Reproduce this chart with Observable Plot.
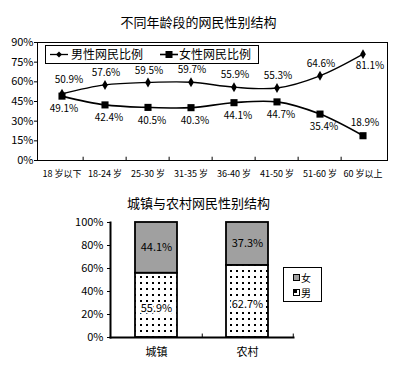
<!DOCTYPE html>
<html>
<head>
<meta charset="utf-8">
<script src="https://cdn.jsdelivr.net/npm/d3@7"></script>
<script src="https://cdn.jsdelivr.net/npm/@observablehq/plot@0.6"></script>
<style>
  body { margin: 0; background: #fff; }
  #wrap { position: relative; width: 397px; height: 368px; overflow: hidden; background: #fff;
          font-family: "Noto Sans CJK SC", "DejaVu Sans", sans-serif; color: #000; }
  .title { position: absolute; left: 0; width: 397px; text-align: center; font-size: 13px; line-height: 16px; }
  .plot { position: absolute; left: 0; }
  .legend { position: absolute; border: 1px solid #000; background: #fff; font-size: 12px; }
</style>
</head>
<body>
<div id="wrap"></div>
<script>
// ---- Data: chart 1 ----
const title1 = "不同年龄段的网民性别结构";
const ageGroups = ["18 岁以下", "18-24 岁", "25-30 岁", "31-35 岁", "36-40 岁", "41-50 岁", "51-60 岁", "60 岁以上"];
const maleShare = [50.9, 57.6, 59.5, 59.7, 55.9, 55.3, 64.6, 81.1];
const femaleShare = [49.1, 42.4, 40.5, 40.3, 44.1, 44.7, 35.4, 18.9];
const seriesNames = ["男性网民比例", "女性网民比例"];
const yTicks1 = [0, 15, 30, 45, 60, 75, 90];

// ---- Data: chart 2 ----
const title2 = "城镇与农村网民性别结构";
const areas = ["城镇", "农村"];
const maleArea = [55.9, 62.7];
const femaleArea = [44.1, 37.3];
const yTicks2 = [0, 20, 40, 60, 80, 100];
const legend2 = ["女", "男"];

const font = '"Noto Sans CJK SC", "DejaVu Sans", sans-serif';
const wrap = document.getElementById("wrap");

// ---------- Chart 1 ----------
const male = ageGroups.map((c, i) => ({cat: c, v: maleShare[i], i}));
const female = ageGroups.map((c, i) => ({cat: c, v: femaleShare[i], i}));
const W = 397, H1 = 190, ml1 = 37, mr1 = 10, mt1 = 42, mb1 = 30;
const step1 = (W - ml1 - mr1) / ageGroups.length;
const n = ageGroups.length;
const pct = d => d.toFixed(1) + "%";

const p1 = Plot.plot({
  width: W, height: H1,
  marginLeft: ml1, marginRight: mr1, marginTop: mt1, marginBottom: mb1,
  style: {fontFamily: font, fontSize: "10px", background: "white", color: "black", overflow: "visible"},
  x: {type: "band", domain: ageGroups, padding: 0},
  y: {domain: [0, 90]},
  marks: [
    Plot.frame({stroke: "black", strokeWidth: 1}),
    Plot.axisY({ticks: yTicks1, tickFormat: d => d + "%", tickSize: 3, tickPadding: 1, label: null, fontSize: 11}),
    Plot.axisX({tickSize: 0, tickPadding: 10, label: null, fontSize: 9, letterSpacing: "-0.3px"}),
    Plot.ruleX(ageGroups.slice(1), {x: d => d, y1: 0, y2: 2.5, dx: -step1 / 2, stroke: "black"}),
    Plot.line(male, {x: "cat", y: "v", curve: "catmull-rom", stroke: "black", strokeWidth: 1.3}),
    Plot.line(female, {x: "cat", y: "v", curve: "catmull-rom", stroke: "black", strokeWidth: 1.6}),
    Plot.dot(male, {x: "cat", y: "v", symbol: "diamond", r: 3, fill: "black", stroke: "none"}),
    Plot.dot(female, {x: "cat", y: "v", symbol: "square", r: 4, fill: "black", stroke: "none"}),
    // male labels
    Plot.text(male, {filter: d => d.i === 0, x: "cat", y: "v", text: d => pct(d.v), dx: 7, dy: -14, fontSize: 10}),
    Plot.text(male, {filter: d => d.i > 0 && d.i < n - 1, x: "cat", y: "v", text: d => pct(d.v), dx: 1, dy: -12, fontSize: 10}),
    Plot.text(male, {filter: d => d.i === n - 1, x: "cat", y: "v", text: d => pct(d.v), dx: 7, dy: 12, fontSize: 10}),
    // female labels
    Plot.text(female, {filter: d => d.i === 0, x: "cat", y: "v", text: d => pct(d.v), dx: 2, dy: 13, fontSize: 10}),
    Plot.text(female, {filter: d => d.i > 0 && d.i < n - 1, x: "cat", y: "v", text: d => pct(d.v), dx: 4, dy: 13, fontSize: 10}),
    Plot.text(female, {filter: d => d.i === n - 1, x: "cat", y: "v", text: d => pct(d.v), dx: 2, dy: -13, fontSize: 10})
  ]
});
p1.classList.add("plot");
p1.style.top = "0px";
wrap.appendChild(p1);

const t1 = document.createElement("div");
t1.className = "title"; t1.style.top = "14px"; t1.textContent = title1;
wrap.appendChild(t1);

// legend 1 (inside plot frame)
const lg1 = document.createElement("div");
lg1.className = "legend";
Object.assign(lg1.style, {left: "45px", top: "45px", width: "212px", height: "17px"});
lg1.innerHTML = `
<svg width="212" height="17" style="position:absolute;left:0;top:0;font-family:${font.replace(/"/g, "'")}">
  <line x1="4" x2="22" y1="8.5" y2="8.5" stroke="black" stroke-width="1.3"/>
  <path d="M13,5.5 L16,8.5 L13,11.5 L10,8.5 Z" fill="black"/>
  <text x="25" y="13" font-size="12">${seriesNames[0]}</text>
  <line x1="114" x2="132" y1="8.5" y2="8.5" stroke="black" stroke-width="1.6"/>
  <rect x="119.5" y="5" width="7" height="7" fill="black"/>
  <text x="133" y="13" font-size="12">${seriesNames[1]}</text>
</svg>`;
wrap.appendChild(lg1);

// ---------- Chart 2 ----------
const H2 = 178, ml2 = 110, mr2 = 104, mt2 = 32, mb2 = 31;
const bars = areas.map((a, i) => ({area: a, m: maleArea[i], f: femaleArea[i]}));
const step2 = (W - ml2 - mr2) / areas.length;

const p2 = Plot.plot({
  width: W, height: H2,
  marginLeft: ml2, marginRight: mr2, marginTop: mt2, marginBottom: mb2,
  style: {fontFamily: font, fontSize: "11px", background: "white", color: "black", overflow: "visible"},
  x: {type: "band", domain: areas, paddingInner: 0.54, paddingOuter: 0.27},
  y: {domain: [0, 100]},
  marks: [
    Plot.axisY({ticks: yTicks2, tickFormat: d => d + "%", tickSize: 3, tickPadding: 4, label: null, fontSize: 11}),
    Plot.axisX({tickSize: 0, tickPadding: 11, label: null, fontSize: 11}),
    Plot.barY(bars, {x: "area", y1: 0, y2: "m", fill: "url(#dots)", stroke: "black", strokeWidth: 1.8}),
    Plot.barY(bars, {x: "area", y1: "m", y2: d => d.m + d.f, fill: "#a0a0a0", stroke: "black", strokeWidth: 1.8}),
    Plot.text(bars, {x: "area", y: d => d.m + d.f / 2, text: d => pct(d.f), fontSize: 11, fill: "black"}),
    Plot.text(bars, {x: "area", y: d => d.m / 2, text: d => pct(d.m), dy: 3, fontSize: 11, fill: "black",
                     stroke: "white", strokeWidth: 4, paintOrder: "stroke"}),
    Plot.ruleX(areas, {x: d => d, y1: 0, y2: 3, dx: step2 / 2, stroke: "black"}),
    Plot.frame({anchor: "left", stroke: "black", strokeWidth: 2}),
    Plot.frame({anchor: "bottom", stroke: "black", strokeWidth: 2})
  ]
});
// dot pattern for male segment
const defs = d3.select(p2).insert("defs", ":first-child");
const pat = defs.append("pattern").attr("id", "dots").attr("patternUnits", "userSpaceOnUse")
  .attr("width", 6).attr("height", 6);
pat.append("rect").attr("width", 6).attr("height", 6).attr("fill", "white");
pat.append("rect").attr("x", 2).attr("y", 2).attr("width", 2).attr("height", 2).attr("fill", "black");
p2.classList.add("plot");
p2.style.top = "190px";
wrap.appendChild(p2);

const t2 = document.createElement("div");
t2.className = "title"; t2.style.top = "195px"; t2.textContent = title2;
wrap.appendChild(t2);

const lg2 = document.createElement("div");
lg2.className = "legend";
Object.assign(lg2.style, {left: "283px", top: "267px", width: "37px", height: "33px", borderWidth: "1.5px"});
lg2.innerHTML = `
<svg width="37" height="33" style="position:absolute;left:0;top:0;font-family:${font.replace(/"/g, "'")}">
  <rect x="9.5" y="6.5" width="6" height="6" fill="#a0a0a0" stroke="black" stroke-width="1"/>
  <text x="17" y="13.5" font-size="10">${legend2[0]}</text>
  <rect x="9.5" y="21.5" width="6" height="6" fill="white" stroke="black" stroke-width="1"/>
  <rect x="10" y="22" width="3" height="3" fill="black"/>
  <text x="17" y="28.5" font-size="10">${legend2[1]}</text>
</svg>`;
wrap.appendChild(lg2);
</script>
</body>
</html>
